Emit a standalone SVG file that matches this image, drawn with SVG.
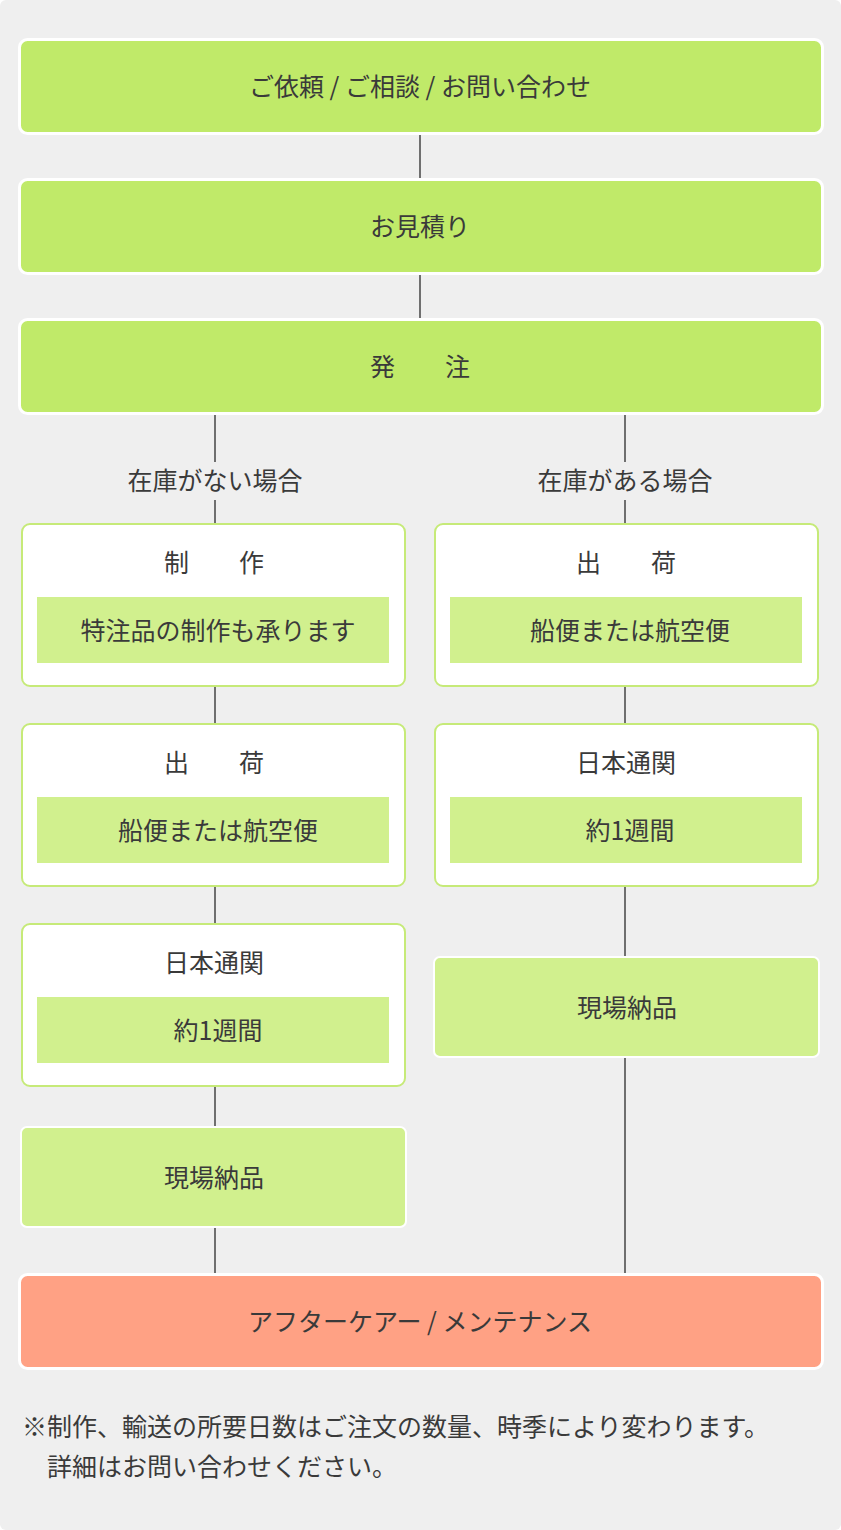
<svg xmlns="http://www.w3.org/2000/svg" width="841" height="1530" viewBox="0 0 841 1530">
<style>
text{font-family:"Noto Sans CJK JP","Noto Sans",sans-serif;fill:#3a3a3a;text-anchor:middle;font-size:25px}
.big{fill:#c0ea69;stroke:#fff;stroke-width:3}
.red{fill:#ffa184;stroke:#fff;stroke-width:3}
.card{fill:#fff;stroke:#c6ea78;stroke-width:2}
.band{fill:#d1f08e}
.bandbox{fill:#d1f08e;stroke:#fff;stroke-width:2}
.ln{stroke:#444;stroke-width:1.5}
</style>
<rect x="0" y="0" width="841" height="1530" rx="6" fill="#efefef"/>
<g id="connectors">
<line class="ln" x1="420" y1="135" x2="420" y2="180"/>
<line class="ln" x1="420" y1="275" x2="420" y2="320"/>
<line class="ln" x1="215" y1="415" x2="215" y2="462"/>
<line class="ln" x1="215" y1="500" x2="215" y2="523"/>
<line class="ln" x1="625" y1="415" x2="625" y2="462"/>
<line class="ln" x1="625" y1="500" x2="625" y2="523"/>
<line class="ln" x1="215" y1="687" x2="215" y2="723"/>
<line class="ln" x1="215" y1="887" x2="215" y2="923"/>
<line class="ln" x1="215" y1="1087" x2="215" y2="1127"/>
<line class="ln" x1="215" y1="1227" x2="215" y2="1274"/>
<line class="ln" x1="625" y1="687" x2="625" y2="723"/>
<line class="ln" x1="625" y1="887" x2="625" y2="957"/>
<line class="ln" x1="625" y1="1057" x2="625" y2="1274"/>
<text x="215" y="490">在庫がない場合</text>
<text x="625" y="490">在庫がある場合</text>
</g>
<g id="n1"><rect class="big" x="19.5" y="39.5" width="803" height="94" rx="8"/><text x="420" y="96">ご依頼 / ご相談 / お問い合わせ</text></g>
<g id="n2"><rect class="big" x="19.5" y="179.5" width="803" height="94" rx="8"/><text x="420" y="236">お見積り</text></g>
<g id="n3"><rect class="big" x="19.5" y="319.5" width="803" height="94" rx="8"/><text x="420" y="376" xml:space="preserve">発　　注</text></g>
<g id="l1"><rect class="card" x="22" y="524" width="383" height="162" rx="8"/><text x="214" y="572" xml:space="preserve">制　　作</text><rect class="band" x="37" y="597" width="352" height="66"/><text x="218" y="640">特注品の制作も承ります</text></g>
<g id="l2"><rect class="card" x="22" y="724" width="383" height="162" rx="8"/><text x="214" y="772" xml:space="preserve">出　　荷</text><rect class="band" x="37" y="797" width="352" height="66"/><text x="218" y="840">船便または航空便</text></g>
<g id="l3"><rect class="card" x="22" y="924" width="383" height="162" rx="8"/><text x="214" y="972">日本通関</text><rect class="band" x="37" y="997" width="352" height="66"/><text x="218" y="1040">約1週間</text></g>
<g id="l4"><rect class="bandbox" x="21" y="1127" width="385" height="100" rx="6"/><text x="214" y="1187">現場納品</text></g>
<g id="r1"><rect class="card" x="435" y="524" width="383" height="162" rx="8"/><text x="626" y="572" xml:space="preserve">出　　荷</text><rect class="band" x="450" y="597" width="352" height="66"/><text x="630" y="640">船便または航空便</text></g>
<g id="r2"><rect class="card" x="435" y="724" width="383" height="162" rx="8"/><text x="626" y="772">日本通関</text><rect class="band" x="450" y="797" width="352" height="66"/><text x="630" y="840">約1週間</text></g>
<g id="r3"><rect class="bandbox" x="434" y="957" width="385" height="100" rx="6"/><text x="627" y="1017">現場納品</text></g>
<g id="n4"><rect class="red" x="19.5" y="1274.5" width="803" height="94" rx="8"/><text x="420" y="1331">アフターケアー / メンテナンス</text></g>
<text x="22" y="1436" style="text-anchor:start">※制作、輸送の所要日数はご注文の数量、時季により変わります。</text>
<text x="47" y="1476" style="text-anchor:start">詳細はお問い合わせください。</text>
</svg>
